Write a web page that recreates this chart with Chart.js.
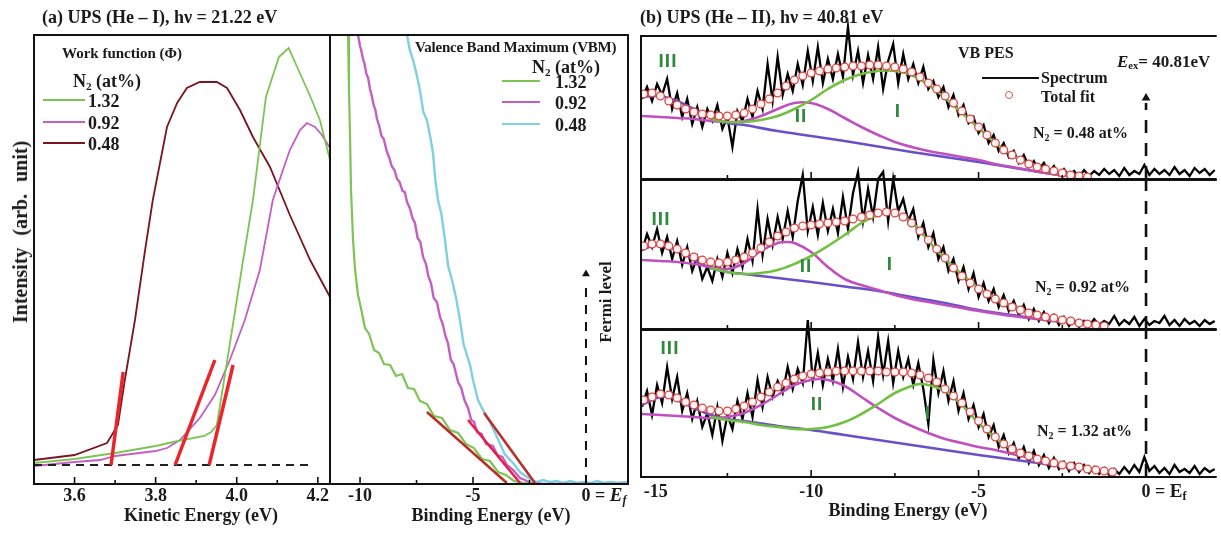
<!DOCTYPE html>
<html>
<head>
<meta charset="utf-8">
<title>UPS He-I / He-II spectra</title>
<script src="https://cdn.jsdelivr.net/npm/chart.js@4.4.1/dist/chart.umd.min.js"></script>
<style>
  html, body { margin: 0; padding: 0; background: #fff; }
  #fig { position: relative; width: 1221px; height: 534px; overflow: hidden;
         font-family: 'Liberation Serif', 'Times New Roman', serif; font-weight: bold; color: #1a1a1a; }
  #fig canvas { position: absolute; left: 0; top: 0; }
  .t { position: absolute; white-space: nowrap; line-height: 1; transform: translateY(-50%); }
  .c { transform: translate(-50%, -50%); }
  .rot { transform: translate(-50%, -50%) rotate(-90deg); }
  .ln { position: absolute; height: 2px; }
  .num { position: absolute; line-height: 1; transform: translate(-50%, -50%); color: #2e8b3c;
         font-family: 'Liberation Sans', sans-serif; font-size: 19px; letter-spacing: 1px; }
  sub { font-size: 0.62em; vertical-align: -0.28em; line-height: 0; }
</style>
</head>
<body>
<div id="fig">
  <canvas id="cA1" width="1221" height="534"></canvas>
  <canvas id="cA2" width="1221" height="534"></canvas>
  <canvas id="cB1" width="1221" height="534"></canvas>
  <canvas id="cB2" width="1221" height="534"></canvas>
  <canvas id="cB3" width="1221" height="534"></canvas>

  <!-- panel (a) text -->
  <div class="t" style="left:42px;top:17px;font-size:18px">(a) UPS (He – I), hν = 21.22 eV</div>
  <div class="t rot" style="left:20px;top:232px;font-size:20px;word-spacing:7px">Intensity (arb. unit)</div>
  <div class="t c" style="left:201px;top:515px;font-size:18px">Kinetic Energy (eV)</div>
  <div class="t c" style="left:491px;top:515px;font-size:18px">Binding Energy (eV)</div>
  <div class="t rot" style="left:605px;top:302px;font-size:17px">Fermi level</div>

  <div class="t" style="left:62px;top:53px;font-size:15px">Work function (Φ)</div>
  <div class="t" style="left:73px;top:81px;font-size:18px">N<sub>2</sub> (at%)</div>
  <div class="ln" style="left:43px;top:99px;width:42px;background:#7cc454"></div>
  <div class="ln" style="left:43px;top:121px;width:42px;background:#c45ec4"></div>
  <div class="ln" style="left:43px;top:142px;width:42px;background:#7b1522"></div>
  <div class="t" style="left:88px;top:101px;font-size:18px">1.32</div>
  <div class="t" style="left:88px;top:123px;font-size:18px">0.92</div>
  <div class="t" style="left:88px;top:144px;font-size:18px">0.48</div>

  <div class="t" style="left:415px;top:47px;font-size:15px;letter-spacing:-0.2px">Valence Band Maximum (VBM)</div>
  <div class="t" style="left:532px;top:67px;font-size:18px">N<sub>2</sub> (at%)</div>
  <div class="ln" style="left:502px;top:80px;width:38px;background:#7cc454"></div>
  <div class="ln" style="left:502px;top:101px;width:38px;background:#c45ec4"></div>
  <div class="ln" style="left:502px;top:123px;width:38px;background:#7fd0e0"></div>
  <div class="t" style="left:555px;top:82px;font-size:18px">1.32</div>
  <div class="t" style="left:555px;top:103px;font-size:18px">0.92</div>
  <div class="t" style="left:555px;top:125px;font-size:18px">0.48</div>

  <!-- panel (b) text -->
  <div class="t" style="left:640px;top:17px;font-size:18px">(b) UPS (He – II), hν = 40.81 eV</div>
  <div class="t c" style="left:908px;top:510px;font-size:18px">Binding Energy (eV)</div>
  <div class="t" style="left:958px;top:53px;font-size:16px">VB PES</div>
  <div class="ln" style="left:982px;top:77px;width:57px;height:1.5px;background:#111"></div>
  <div class="t" style="left:1041px;top:78px;font-size:16px">Spectrum</div>
  <div style="position:absolute;left:1005px;top:91px;width:6px;height:6px;border:1.3px solid #d9534f;border-radius:50%"></div>
  <div class="t" style="left:1041px;top:97px;font-size:16px">Total fit</div>
  <div class="t" style="left:1117px;top:61px;font-size:17px"><i>E</i><sub>ex</sub>= 40.81eV</div>
  <div class="t" style="left:1033px;top:133px;font-size:16px">N<sub>2</sub> = 0.48 at%</div>
  <div class="t" style="left:1035px;top:287px;font-size:16px">N<sub>2</sub> = 0.92 at%</div>
  <div class="t" style="left:1037px;top:431px;font-size:16px">N<sub>2</sub> = 1.32 at%</div>

  <div class="num" style="left:668px;top:60px">III</div>
  <div class="num" style="left:801px;top:115px">II</div>
  <div class="num" style="left:898px;top:110px">I</div>
  <div class="num" style="left:661px;top:218px">III</div>
  <div class="num" style="left:806px;top:265px">II</div>
  <div class="num" style="left:890px;top:263px">I</div>
  <div class="num" style="left:670px;top:347px">III</div>
  <div class="num" style="left:817px;top:403px">II</div>
  <div class="num" style="left:928px;top:412px">I</div>
</div>

<script>
const W = 1221, H = 534;

// ---------- panel (a) left: secondary-electron cut-off (kinetic energy, eV) ----------
const kinGreen  = [[3.5,21],[3.6,25],[3.7,31],[3.8,38],[3.855,43],[3.92,48],[3.937,52],[3.951,59],[3.983,140],[4.015,222],[4.04,284],[4.072,387],[4.104,427],[4.128,436],[4.15,416],[4.18,389],[4.205,364],[4.23,324]];
const kinPurple = [[3.5,18],[3.6,22],[3.663,24],[3.7,28],[3.8,33],[3.828,36],[3.86,44],[3.909,66],[3.946,89],[3.983,124],[4.02,164],[4.057,214],[4.089,284],[4.114,314],[4.131,334],[4.156,354],[4.173,361],[4.193,357],[4.21,349],[4.23,336]];
const kinRed    = [[3.5,24],[3.6,29],[3.68,41],[3.707,59],[3.724,104],[3.749,164],[3.774,234],[3.793,284],[3.828,357],[3.853,381],[3.877,396],[3.909,402],[3.951,402],[3.976,396],[4.008,374],[4.04,347],[4.082,317],[4.131,269],[4.181,224],[4.23,187]];
const kinFits   = [[[3.690,19],[3.720,112]], [[3.848,19],[3.946,124]], [[3.932,19],[3.991,119]]];
const kinBase   = [[3.5,19],[4.176,19]];
const kinTicks  = [3.6, 3.8, 4.0, 4.2];
const kinTickText = ['3.6', '3.8', '4.0', '4.2'];
const kinMinor  = [3.7, 3.9, 4.1];

// ---------- panel (a) right: valence band edge (binding energy, eV) ----------
const vbGreen = [[-10.53,449],[-10.49,394],[-10.44,344],[-10.4,294],[-10.31,244],[-10.22,214],[-10.09,189],[-9.96,176],[-9.78,156],[-9.6,150],[-9.38,134],[-9.16,131],[-8.94,120],[-8.67,119],[-8.41,108],[-8.14,110],[-7.88,96],[-7.61,95],[-7.35,83],[-7.04,80],[-6.73,68],[-6.37,66],[-6.02,54],[-5.66,51],[-5.31,40],[-4.96,36],[-4.6,25],[-4.25,23],[-3.89,12],[-3.54,9],[-3.19,3],[-2.74,1],[-2.04,0],[1.86,0]];
const vbPurple = [[-10.09,449],[-10.0,438],[-9.95,434],[-9.87,425],[-9.8,420],[-9.72,410],[-9.64,406],[-9.56,395],[-9.48,388],[-9.4,379],[-9.32,374],[-9.25,365],[-9.15,358],[-9.05,348],[-8.95,345],[-8.81,332],[-8.7,326],[-8.6,318],[-8.48,314],[-8.36,305],[-8.25,302],[-8.12,293],[-8.02,292],[-7.92,282],[-7.8,276],[-7.68,266],[-7.57,261],[-7.45,246],[-7.33,242],[-7.21,227],[-7.08,220],[-6.98,208],[-6.86,201],[-6.74,186],[-6.6,182],[-6.46,167],[-6.34,160],[-6.22,148],[-6.11,141],[-5.98,124],[-5.86,120],[-5.66,102],[-5.52,96],[-5.38,84],[-5.22,76],[-5.08,64],[-4.95,62],[-4.82,52],[-4.62,50],[-4.42,40],[-4.12,38],[-3.92,29],[-3.7,27],[-3.5,19],[-3.22,14],[-2.92,6],[-2.7,4],[-2.48,1],[-1.81,0],[1.86,0]];
const vbCyan = [[-7.92,449],[-7.8,434],[-7.65,424],[-7.5,410],[-7.35,394],[-7.2,372],[-7.04,364],[-6.9,348],[-6.77,331],[-6.66,302],[-6.55,284],[-6.4,270],[-6.24,244],[-6.1,218],[-5.93,204],[-5.75,186],[-5.58,164],[-5.42,140],[-5.27,129],[-5.12,118],[-5.0,104],[-4.78,84],[-4.56,74],[-4.25,62],[-3.94,47],[-3.6,30],[-3.23,21],[-2.92,12],[-2.61,7],[-2.4,4],[-2.17,2],[-1.9,4],[-1.6,2],[-1.3,3],[-1.0,1],[-0.7,3],[-0.4,1],[-0.1,2],[0.2,1],[0.5,3],[0.8,1],[1.1,2],[1.4,1],[1.86,2]];
const vbFits = [[[-7.04,72],[-3.50,1]], [[-5.22,64],[-2.92,1]], [[-4.51,71],[-2.26,1]]];
const vbFermi = [[0,0],[0,204]];
const vbFermiTip = [[0,210]];
const vbTicks = [-10, -5];
const vbTickText = ['-10', '-5'];
const vbMinor = [-7.5, -2.5];

// ---------- panel (b): He-II valence band spectra with peak fits ----------
const specStart = -15.05, specStep = 0.15;
const s1Spec = [80,92,78,95,84,100,70,86,62,80, 55,72,52,70,58,74,50,62,32,68,
  58,80,62,88,70,115,78,122,84,105, 88,115,94,128,98,132,96,120,100,125,
  102,152,104,128,96,124,100,132,90,118, 135,96,125,100,115,96,112,90,98,82,
  92,72,84,64,74,56,62,46,54,36, 44,28,36,22,28,16,24,12,18,9,
  16,7,13,4,10,3,8,2,9,3, 8,4,10,5,9,3,11,4,8,5,
  14,4,10,5,9,4,12,5,9,3, 11,6,10,4,9];
const s2Spec = [78,95,82,100,76,92,70,88,64,82, 58,72,50,62,48,70,52,76,56,80,
  62,90,68,120,74,110,84,112,90,118, 92,128,154,98,122,94,126,98,120,96,
  132,100,136,157,108,140,112,150,157,108, 150,118,130,108,120,92,106,82,96,70,
  82,58,70,48,62,40,56,32,46,28, 40,22,34,18,28,14,24,10,20,8,
  17,6,14,4,12,3,9,2,8,3, 10,4,8,5,13,4,9,5,12,3,
  10,4,8,6,13,4,9,3,10,5, 8,3,9,5,8];
const s3Spec = [70,86,62,92,74,110,78,100,66,84, 58,76,50,64,42,70,36,62,48,76,
  58,84,60,97,70,100,80,96,84,110, 88,108,94,157,96,124,92,118,96,128,
  90,120,98,135,100,126,96,140,102,136, 94,126,100,118,92,114,88,53,117,84,
  106,76,96,66,84,58,72,50,63,40, 52,30,42,24,34,18,30,14,26,12,
  22,9,19,8,15,6,14,5,12,4, 10,3,9,2,8,3,10,4,12,5,
  20,6,11,4,9,3,12,5,8,4, 11,3,9,5,8];

const fitGrid = [-15,-14.75,-14.5,-14.25,-14,-13.75,-13.5,-13.25,-13,-12.75,-12.5,-12.25,-12,-11.75,-11.5,-11.25,-11,-10.75,-10.5,-10.25,
  -10,-9.75,-9.5,-9.25,-9,-8.75,-8.5,-8.25,-8,-7.75,-7.5,-7.25,-7,-6.75,-6.5,-6.25,-6,-5.75,-5.5,-5.25,
  -5,-4.75,-4.5,-4.25,-4,-3.75,-3.5,-3.25,-3,-2.75,-2.5,-2.25,-2,-1.75,-1.5,-1.25,-1];
const s1Fit = [85,86,83,78,74,70,67,65,64,63,63,64,66,70,75,80,86,93,99,103,106,108,110,111,112,113,113,114,114,113,
  112,110,107,102,96,90,83,76,68,60,52,44,36,29,24,19,15,12,10,8,6,4,3,2];
const s2Fit = [83,85,85,83,80,76,72,69,67,66,67,69,72,76,81,87,93,97,101,103,104,105,106,107,108,110,112,114,116,117,
  116,112,106,98,89,80,71,61,53,46,40,35,30,26,22,19,16,14,12,11,9,8,6,5,4,3];
const s3Fit = [77,80,83,82,79,75,72,69,67,66,66,68,71,75,80,85,90,94,98,101,103,104,105,106,106,106,106,106,106,105,
  105,105,104,102,99,95,88,81,74,65,56,48,40,33,28,24,21,18,16,14,12,11,10,8,7,6,5];

const s1Blue  = [[-15.05,82],[-14.75,83],[-14.5,83],[-14,78],[-13.5,70],[-13,61],[-12.5,56],[-12,54],[-11,48],[-10,43],[-9,38],[-8,32.5],[-7,27],[-6,22],[-5,17],[-4,11.5],[-3,6],[-2,1.5],[-1.75,0.5]];
const s1Mag   = [[-15.05,63],[-14.5,62],[-14,61],[-13.5,60],[-13,58],[-12.5,57],[-12,58],[-11.5,63],[-11,70],[-10.5,76],[-10,76],[-9.5,70],[-9,61],[-8.5,52],[-8,44],[-7.5,37],[-7,32],[-6.5,28],[-6,25],[-5.5,22],[-5,19],[-4.5,15],[-4,12],[-3.5,9],[-3,6],[-2.5,4],[-2,1.5],[-1.75,0.5]];
const s1Green = [[-13,60],[-12.5,57],[-12,57],[-11.5,59],[-11,63],[-10.5,70],[-10,79],[-9.5,90],[-9,99],[-8.5,105],[-8,108],[-7.5,108],[-7,104],[-6.5,94],[-6,81],[-5.5,66],[-5,51],[-4.5,36],[-4,24],[-3.5,15],[-3,9],[-2.5,5],[-2,2],[-1.75,1]];

const s2Blue  = [[-15.05,79],[-14.75,83],[-14.5,84],[-14,79],[-13.5,69],[-13,61],[-12.5,57],[-12,55],[-11,51],[-10,47],[-9,42.5],[-8,38],[-7,32],[-6,26],[-5,19],[-4,14],[-3,9.5],[-2,6],[-1.25,3]];
const s2Mag   = [[-15.05,69],[-14.5,68],[-14,67],[-13.5,65],[-13,62],[-12.5,60],[-12,66],[-11.5,78],[-11,86],[-10.75,87],[-10.5,86],[-10,77],[-9.5,62],[-9,50],[-8.5,44],[-8,39],[-7.5,34],[-7,30],[-6.5,27],[-6,24],[-5.5,21],[-5,18],[-4.5,15.5],[-4,13],[-3,9],[-2,5.5],[-1.25,3]];
const s2Green = [[-13,61],[-12.5,57],[-12,55],[-11.5,56],[-11,59],[-10.5,65],[-10,73],[-9.5,83],[-9,94],[-8.5,106],[-8,114],[-7.75,116],[-7.5,115],[-7,107],[-6.5,88],[-6,70],[-5.5,55],[-5,41],[-4.5,31],[-4,23],[-3.5,17],[-3,12],[-2.5,9],[-2,6],[-1.5,4],[-1.25,3]];

const s3Blue  = [[-15.05,72],[-14.75,77],[-14.5,80],[-14.25,80],[-14,77],[-13.5,69],[-13,62],[-12.5,58],[-12,56],[-11,51],[-10,47],[-9,42],[-8,37],[-7,32],[-6,27],[-5,22],[-4,17.5],[-3,13],[-2,8.5],[-1,5]];
const s3Mag   = [[-15.05,63],[-14.5,62],[-14,61],[-13.5,60],[-13,59],[-12.5,60],[-12,64],[-11.5,72],[-11,82],[-10.5,92],[-10,97],[-9.75,98],[-9.5,97],[-9,91],[-8.5,80],[-8,69],[-7.5,59],[-7,51],[-6.5,44],[-6,38],[-5.5,34],[-5,30],[-4.5,27],[-4,23],[-3,16],[-2,10],[-1,5]];
const s3Green = [[-13,60],[-12.5,57],[-12,55],[-11.5,52],[-11,50],[-10.5,48],[-10,48],[-9.5,50],[-9,55],[-8.5,63],[-8,73],[-7.5,84],[-7,91],[-6.75,93],[-6.5,92],[-6,86],[-5.5,72],[-5,54],[-4.5,39],[-4,28],[-3.5,22],[-3,17],[-2.5,13],[-2,10],[-1.5,7],[-1,5]];

const efTop = [76, 149, 147];   // dashed E_F marker height in each sub-panel
const bTicks = [-15, -10, -5];
const bTickText = ['-15', '-10', '-5'];
const bMajor = [-10, -5, 0];
const bMinor = [-12.5, -7.5, -2.5];

// ---------- helpers ----------
const pairs = arr => arr.map(([x, y]) => ({ x, y }));
const line = (arr, color, width, extra) => Object.assign(
  { data: pairs(arr), borderColor: color, borderWidth: width, pointRadius: 0, tension: 0, fill: false }, extra || {});
const FONT = '"Liberation Serif", "Times New Roman", serif';

function drawEf(ctx, px, y, italic) {
  ctx.textAlign = 'left';
  ctx.font = 'bold 18px ' + FONT;
  let x = px - ctx.measureText('0').width / 2;
  ctx.fillText('0 = ', x, y);
  x += ctx.measureText('0 = ').width;
  ctx.font = (italic ? 'italic ' : '') + 'bold 19px ' + FONT;
  ctx.fillText('E', x, y);
  x += ctx.measureText('E').width;
  ctx.font = (italic ? 'italic ' : '') + 'bold 12px ' + FONT;
  ctx.fillText('f', x, y + 5);
}

// frame, inward ticks and tick labels, placed through the x scale
const deco = {
  id: 'deco',
  afterDatasetsDraw(chart, args, o) {
    const { ctx, chartArea: a } = chart;
    const xs = chart.scales.x;
    ctx.save();
    ctx.strokeStyle = '#111';
    ctx.lineWidth = 2;
    ctx.beginPath();
    if (o.sides.includes('t')) { ctx.moveTo(a.left - 1, a.top); ctx.lineTo(a.right + 1, a.top); }
    if (o.sides.includes('b')) { ctx.moveTo(a.left - 1, a.bottom); ctx.lineTo(a.right + 1, a.bottom); }
    if (o.sides.includes('l')) { ctx.moveTo(a.left, a.top); ctx.lineTo(a.left, a.bottom); }
    if (o.sides.includes('r')) { ctx.moveTo(a.right, a.top); ctx.lineTo(a.right, a.bottom); }
    ctx.stroke();
    ctx.lineWidth = 1.6;
    ctx.beginPath();
    (o.major || []).forEach(v => { const p = xs.getPixelForValue(v); ctx.moveTo(p, a.bottom); ctx.lineTo(p, a.bottom - 7); });
    (o.minor || []).forEach(v => { const p = xs.getPixelForValue(v); ctx.moveTo(p, a.bottom); ctx.lineTo(p, a.bottom - 4); });
    ctx.stroke();
    if (o.ticks) {
      ctx.fillStyle = '#1a1a1a';
      ctx.font = 'bold 18px ' + FONT;
      ctx.textAlign = 'center';
      ctx.textBaseline = 'middle';
      const y = a.bottom + o.labelDy;
      o.ticks.forEach((v, i) => ctx.fillText(o.text[i], xs.getPixelForValue(v) + (i === 0 ? (o.firstDx || 0) : 0), y));
      if (o.ef) drawEf(ctx, xs.getPixelForValue(0), y, o.ef === 'italic');
    }
    ctx.restore();
  }
};

function makeChart(id, area, xr, yMax, datasets, opts) {
  return new Chart(document.getElementById(id), {
    type: 'line',
    data: { datasets },
    options: {
      responsive: false, animation: false, events: [],
      layout: { padding: { left: area[0], top: area[1], right: W - area[2], bottom: H - area[3] } },
      scales: {
        x: { type: 'linear', min: xr[0], max: xr[1], display: false },
        y: { min: 0, max: yMax, display: false }
      },
      plugins: { legend: { display: false }, tooltip: { enabled: false }, deco: opts }
    },
    plugins: [deco]
  });
}

// ---------- panel (a) left ----------
makeChart('cA1', [34, 35, 330, 484], [3.5, 4.23], 449, [
  ...kinFits.map(f => line(f, '#e8262b', 3.5)),
  line(kinBase, '#222', 2, { borderDash: [8, 6] }),
  line(kinGreen, '#7cc454', 1.8),
  line(kinPurple, '#c45ec4', 1.8),
  line(kinRed, '#7b1522', 1.8)
], { sides: 'tblr', major: kinTicks, minor: kinMinor, ticks: kinTicks, text: kinTickText, labelDy: 12 });

// ---------- panel (a) right ----------
makeChart('cA2', [330, 35, 628, 484], [-11.33, 1.86], 449, [
  line(vbFits[0], '#b8302a', 2.6),
  line(vbFits[1], '#e4204a', 2.6),
  line(vbFits[2], '#b8302a', 2.6),
  line(vbFermiTip, '#111', 0, { pointStyle: 'triangle', pointRadius: 4.5, pointBackgroundColor: '#111', pointBorderWidth: 0 }),
  line(vbFermi, '#111', 2, { borderDash: [9, 8] }),
  line(vbGreen, '#7cc454', 2.2),
  line(vbPurple, '#c45ec4', 2.4),
  line(vbCyan, '#7fd0e0', 2.4)
], { sides: 'tbr', major: [-10, -5, 0], minor: vbMinor, ticks: vbTicks, text: vbTickText, labelDy: 12, ef: 'italic' });

// ---------- panel (b) sub-panels ----------
const specBE = s1Spec.map((_, i) => +(specStart + i * specStep).toFixed(2));
const specData = vals => vals.map((y, i) => [specBE[i], y]);
const fitData = vals => vals.map((y, i) => [fitGrid[i], y]);

function bSets(spec, fit, green, mag, blue, efH, withTip) {
  const sets = [
    line(fitData(fit), '#d9534f', 0, { showLine: false, pointRadius: 3.9, pointBorderColor: '#d84848',
      pointBackgroundColor: '#fff4f4', pointBorderWidth: 1.3 }),
    line(green, '#72c040', 2.6, { tension: 0.4 }),
    line(mag, '#c050c0', 2.6, { tension: 0.4 }),
    line(blue, '#6a50c8', 2.6, { tension: 0.4 })
  ];
  if (withTip) sets.push(line([[0, efH + 5]], '#111', 0, { pointStyle: 'triangle', pointRadius: 5,
    pointBackgroundColor: '#111', pointBorderWidth: 0 }));
  sets.push(line([[0, 0], [0, efH]], '#111', 2.6, { borderDash: [13, 10] }));
  sets.push(line(specData(spec), '#000', 2.3, { borderJoinStyle: 'miter',
    clip: { left: 0, top: false, right: 0, bottom: 0 } }));
  return sets;
}

const bX = [-15.08, 2.08];
makeChart('cB1', [641, 36, 1221, 179], bX, 143, bSets(s1Spec, s1Fit, s1Green, s1Mag, s1Blue, efTop[0], true),
  { sides: 'tbl', major: bMajor, minor: bMinor });
makeChart('cB2', [641, 180, 1221, 329], bX, 149, bSets(s2Spec, s2Fit, s2Green, s2Mag, s2Blue, efTop[1], false),
  { sides: 'tbl', major: bMajor, minor: bMinor });
makeChart('cB3', [641, 330, 1221, 477], bX, 147, bSets(s3Spec, s3Fit, s3Green, s3Mag, s3Blue, efTop[2], false),
  { sides: 'tbl', major: bMajor, minor: bMinor, ticks: bTicks, text: bTickText, labelDy: 15, firstDx: 12, ef: 'upright' });
</script>
</body>
</html>
